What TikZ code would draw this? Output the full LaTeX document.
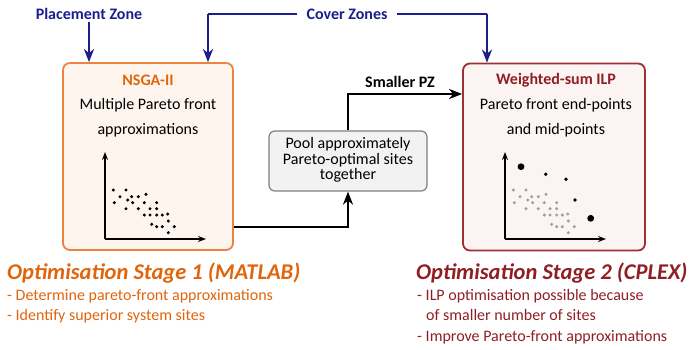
\documentclass[tikz,border=0pt]{standalone}
\usepackage{fontspec}
\setmainfont{Carlito}
\usetikzlibrary{arrows.meta}
\definecolor{navyc}{HTML}{1B1E8C}
\definecolor{orgtext}{HTML}{E0650C}
\definecolor{orgline}{HTML}{EB8443}
\definecolor{orgfill}{HTML}{FEF5EE}
\definecolor{redline}{HTML}{9E2F33}
\definecolor{redtext}{HTML}{8F1F24}
\definecolor{redfill}{HTML}{FCF3F3}
\definecolor{poolline}{HTML}{7F7F7F}
\definecolor{poolfill}{HTML}{F2F2F2}
\definecolor{dotgrey}{HTML}{A0A0A0}
\tikzset{
  txt/.style={font=\fontsize{16}{19}\selectfont, inner sep=0pt},
  btxt/.style={font=\fontsize{16}{19}\selectfont\bfseries, inner sep=0pt},
  ttl/.style={font=\fontsize{22.5}{26}\selectfont\bfseries\itshape, inner sep=0pt},
  stagebox/.style={draw, line width=1.8pt, rounded corners=7pt, inner sep=0pt},
  navyarrow/.style={draw=navyc, line width=2.5pt, -{Stealth[length=13pt,width=10pt,inset=4pt]}},
  navyline/.style={draw=navyc, line width=2.5pt},
  blackarrow/.style={draw=black, line width=2.5pt, -{Stealth[length=13pt,width=10pt,inset=4pt]}},
  axisarrow/.style={draw=black, line width=1.6pt, -{Stealth[length=8pt,width=6pt]}},
}
\begin{document}
\begin{tikzpicture}[x=1pt,y=-1pt]
\useasboundingbox (0,0) rectangle (690,349);

% boxes
\node[stagebox, draw=orgline, fill=orgfill, minimum width=170pt, minimum height=187pt] (lbox) at (148,156.5) {};
\node[stagebox, draw=redline, fill=redfill, minimum width=182pt, minimum height=187pt] (rbox) at (554,157) {};
\node[draw=poolline, fill=poolfill, line width=1.2pt, rounded corners=6pt, minimum width=158pt, minimum height=60pt, inner sep=0pt] (pool) at (348,161) {};
\node[txt, align=center, font=\fontsize{16}{15.5}\selectfont] (pooltxt) at (348,160) {Pool approximately\\Pareto-optimal sites\\together};

% box texts
\node[btxt, text=orgtext] (nsga) at (148,80) {NSGA-II};
\node[txt, align=center, font=\fontsize{16}{25}\selectfont] (ltxt) at (148,118) {Multiple Pareto front\\approximations};
\node[btxt, text=redtext] (wsum) at (556,80) {Weighted-sum ILP};
\node[txt, align=center, font=\fontsize{16}{25}\selectfont] (rtxt) at (556,118) {Pareto front end-points\\and mid-points};

% top labels
\node[btxt, text=navyc] (pz) at (89,14) {Placement Zone};
\node[btxt, text=navyc] (cz) at (347,14) {Cover Zones};
\node[btxt] (spz) at (400,82) {Smaller PZ};

% navy connectors
\coordinate (cl) at (208,14);
\coordinate (cr) at (487,14);
\draw[navyarrow] (pz.south |- 0,22) -- (pz.south |- lbox.north);
\draw[navyline] ([xshift=-9pt]cz.west) -- (cl);
\draw[navyarrow] (cl) -- (cl |- lbox.north);
\draw[navyline] ([xshift=9pt]cz.east) -- (cr);
\draw[navyarrow] (cr) -- (cr |- rbox.north);

% black connectors
\coordinate (k1) at (348,227);
\coordinate (k2) at (348,94);
\draw[blackarrow] (lbox.east |- k1) -- (k1) -- (pool.south);
\draw[blackarrow] (pool.north) -- (k2) -- (rbox.west |- k2);

% left plot
\coordinate (lo) at (105,239);
\draw[axisarrow] (lo) -- (105,152);
\draw[axisarrow] (lo) -- (206,239);
\foreach \x/\y in {113.3/190,126/190,146/194.3,120/196.7,131.7/196.7,138.3/196.7,127.7/200,114.3/202.7,132.7/202.7,144.3/202.7,156.7/202.7,126/208.7,138.3/208.7,150/208.7,156.7/208.7,144.3/215,150/215,156.7/215,162.3/215,167.7/214,168.3/221,151.7/224.3,156.7/226.7,162.3/226.7,174.3/226.7,168.3/232.7}
  \fill[black] (\x,\y) circle (1.7pt);

% right plot
\coordinate (ro) at (505,239);
\draw[axisarrow] (ro) -- (505,152);
\draw[axisarrow] (ro) -- (606,239);
\foreach \x/\y in {113.3/190,126/190,146/194.3,120/196.7,131.7/196.7,138.3/196.7,127.7/200,114.3/202.7,132.7/202.7,144.3/202.7,156.7/202.7,126/208.7,138.3/208.7,150/208.7,156.7/208.7,144.3/215,150/215,156.7/215,162.3/215,167.7/214,168.3/221,151.7/224.3,156.7/226.7,162.3/226.7,174.3/226.7,168.3/232.7}
  \fill[dotgrey] (\x+400,\y) circle (1.7pt);
\fill[black] (521,166.7) circle (3.4pt);
\fill[black] (590.7,218.3) circle (3.4pt);
\fill[black] (545.7,174.3) circle (1.9pt);
\fill[black] (566,179.3) circle (1.9pt);
\fill[black] (575,200) circle (1.9pt);

% bottom texts left
\node[ttl, text=orgtext, anchor=base west] (s1) at (7,279) {Optimisation Stage 1 (MATLAB)};
\node[txt, text=orgtext, anchor=base west] (s1a) at (7,300) {- Determine pareto-front approximations};
\node[txt, text=orgtext, anchor=base west] (s1b) at (7,320.5) {- Identify superior system sites};

% bottom texts right
\node[ttl, text=redtext, anchor=base west] (s2) at (416,279) {Optimisation Stage 2 (CPLEX)};
\node[txt, text=redtext, anchor=base west] (s2a) at (417,300) {- ILP optimisation possible because};
\node[txt, text=redtext, anchor=base west] (s2b) at (426,320.7) {of smaller number of sites};
\node[txt, text=redtext, anchor=base west] (s2c) at (417,341.5) {- Improve Pareto-front approximations};
\end{tikzpicture}
\end{document}
